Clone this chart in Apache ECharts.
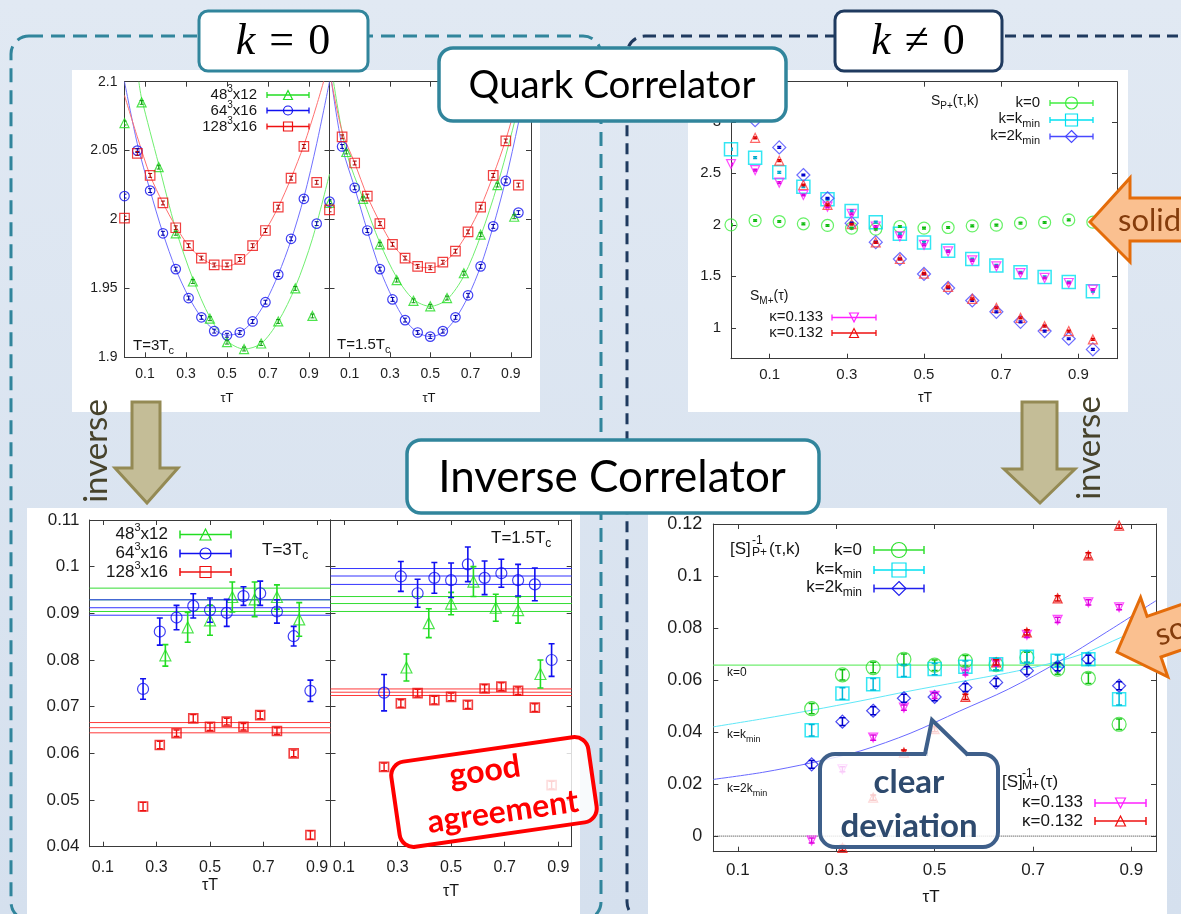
<!DOCTYPE html>
<html>
<head>
<meta charset="utf-8">
<title>Quark Correlator / Inverse Correlator</title>
<script src="https://cdn.jsdelivr.net/npm/echarts@6.0.0/dist/echarts.min.js"></script>
<style>
html,body{margin:0;padding:0;background:#dce5f0;}
#chart{width:1181px;height:914px;}
</style>
</head>
<body>
<div id="chart"></div>
<script>
// ===================== DATA =====================
// Quark correlator, k = 0 (top-left); x = tau*T
const tau12 = [0, 0.0833, 0.1667, 0.25, 0.3333, 0.4167, 0.5, 0.5833, 0.6667, 0.75, 0.8333, 0.9167];
const tau16 = [0, 0.0625, 0.125, 0.1875, 0.25, 0.3125, 0.375, 0.4375, 0.5, 0.5625, 0.625, 0.6875, 0.75, 0.8125, 0.875, 0.9375];
const sq3_48  = [2.070, 2.085, 2.038, 1.990, 1.955, 1.928, 1.911, 1.906, 1.910, 1.926, 1.950, 1.930];
const sq3_64  = [2.017, 2.050, 2.021, 1.990, 1.964, 1.943, 1.929, 1.919, 1.916, 1.918, 1.926, 1.940, 1.960, 1.986, 2.015, 1.997];
const sq3_128 = [2.001, 2.048, 2.032, 2.012, 1.994, 1.981, 1.972, 1.967, 1.967, 1.971, 1.981, 1.992, 2.009, 2.030, 2.053, 2.027];
const sq15_48  = [2.012, 2.049, 2.015, 1.982, 1.956, 1.941, 1.937, 1.943, 1.961, 1.989, 2.025, 2.002];
const sq15_64  = [2.013, 2.053, 2.023, 1.992, 1.964, 1.942, 1.927, 1.918, 1.915, 1.919, 1.929, 1.945, 1.966, 1.995, 2.028, 2.005];
const sq15_128 = [2.007, 2.060, 2.041, 2.017, 1.997, 1.982, 1.972, 1.966, 1.965, 1.969, 1.977, 1.991, 2.009, 2.032, 2.057, 2.025];
const sqErr = 0.0014;
// fit curves
const fitX12a = [0.07, 0.0833, 0.1667, 0.25, 0.3333, 0.4167, 0.5, 0.5833, 0.6667, 0.75, 0.8333, 0.9167, 1.0];
const fit3_48 = [2.100, 2.088, 2.040, 1.993, 1.957, 1.929, 1.912, 1.906, 1.910, 1.926, 1.951, 1.986, 2.033];
const fitX16a = [0, 0.0625, 0.125, 0.1875, 0.25, 0.3125, 0.375, 0.4375, 0.5, 0.5625, 0.625, 0.6875, 0.75, 0.8125, 0.875, 0.9375, 1.0];
const fit3_64  = [2.100, 2.055, 2.021, 1.990, 1.964, 1.944, 1.929, 1.920, 1.916, 1.918, 1.926, 1.940, 1.960, 1.985, 2.016, 2.055, 2.100];
const fit3_128 = [2.090, 2.060, 2.032, 2.012, 1.995, 1.981, 1.972, 1.967, 1.966, 1.970, 1.979, 1.992, 2.009, 2.030, 2.054, 2.083, 2.115];
const fitX16b = [0.01, 0.0625, 0.125, 0.1875, 0.25, 0.3125, 0.375, 0.4375, 0.5, 0.5625, 0.625, 0.6875, 0.75, 0.8125, 0.875, 0.9375, 1.0];
const fit15_128 = [2.100, 2.064, 2.041, 2.017, 1.998, 1.982, 1.972, 1.966, 1.965, 1.968, 1.977, 1.991, 2.009, 2.032, 2.058, 2.090, 2.125];
const fit15_64  = [2.100, 2.053, 2.023, 1.992, 1.964, 1.943, 1.927, 1.918, 1.915, 1.918, 1.928, 1.944, 1.966, 1.995, 2.029, 2.070, 2.115];
const fitX12b = [0.02, 0.0833, 0.1667, 0.25, 0.3333, 0.4167, 0.5, 0.5833, 0.6667, 0.75, 0.8333, 0.9167, 0.97];
const fit15_48 = [2.100, 2.049, 2.015, 1.983, 1.958, 1.942, 1.937, 1.942, 1.959, 1.988, 2.025, 2.070, 2.105];

// Quark correlator, k != 0 (top-right)
const spK0    = [2.000, 2.042, 2.032, 2.010, 1.994, 1.968, 1.958, 1.984, 1.968, 1.974, 1.990, 1.997, 2.016, 2.023, 2.048, 2.026];
const spKmin  = [2.735, 2.652, 2.510, 2.371, 2.248, 2.135, 2.026, 1.913, 1.829, 1.748, 1.668, 1.606, 1.539, 1.494, 1.445, 1.355];
const sp2Kmin = [3.250, 3.016, 2.752, 2.484, 2.258, 2.016, 1.832, 1.668, 1.523, 1.387, 1.265, 1.155, 1.058, 0.968, 0.894, 0.790];
const smK133  = [2.590, 2.532, 2.410, 2.290, 2.177, 2.106, 1.984, 1.887, 1.806, 1.742, 1.655, 1.597, 1.532, 1.484, 1.435, 1.371];
const smK132  = [3.050, 2.845, 2.623, 2.387, 2.194, 2.006, 1.829, 1.668, 1.526, 1.397, 1.281, 1.194, 1.097, 1.016, 0.968, 0.887];
const spErr = 0.008;

// Inverse correlator, k = 0 (bottom-left)
const tauI12 = [0.3333, 0.4167, 0.5, 0.5833, 0.6667, 0.75, 0.8333];
const tauI16 = [0.25, 0.3125, 0.375, 0.4375, 0.5, 0.5625, 0.625, 0.6875, 0.75, 0.8125, 0.875];
const inv3_48   = [0.0810, 0.0870, 0.0885, 0.0935, 0.0930, 0.0935, 0.0887];
const inv3_48e  = [0.0023, 0.0032, 0.0032, 0.0032, 0.0037, 0.0026, 0.0036];
const inv3_64   = [0.0738, 0.0861, 0.0891, 0.0916, 0.0907, 0.0901, 0.0937, 0.0943, 0.0904, 0.0851, 0.0734];
const inv3_64e  = [0.0022, 0.0029, 0.0026, 0.0026, 0.0026, 0.0029, 0.0020, 0.0026, 0.0025, 0.0021, 0.0023];
const inv3_128  = [0.0486, 0.0618, 0.0643, 0.0675, 0.0657, 0.0668, 0.0657, 0.0682, 0.0648, 0.0600, 0.0425];
const inv3_128e = [0.0009, 0.0008, 0.0007, 0.0008, 0.0008, 0.0007, 0.0007, 0.0008, 0.0007, 0.0007, 0.0009];
const inv15_48   = [0.0784, 0.0879, 0.0921, 0.0968, 0.0912, 0.0907, 0.0770];
const inv15_48e  = [0.0029, 0.0031, 0.0024, 0.0032, 0.0029, 0.0028, 0.0030];
const inv15_64   = [0.0730, 0.0979, 0.0943, 0.0976, 0.0971, 0.1005, 0.0976, 0.0986, 0.0971, 0.0962, 0.0800];
const inv15_64e  = [0.0039, 0.0032, 0.0030, 0.0033, 0.0037, 0.0037, 0.0036, 0.0030, 0.0034, 0.0035, 0.0035];
const inv15_128  = [0.0571, 0.0707, 0.0729, 0.0714, 0.0721, 0.0704, 0.0739, 0.0743, 0.0734, 0.0698, 0.0532];
const inv15_128e = [0.0008, 0.0008, 0.0008, 0.0008, 0.0008, 0.0008, 0.0008, 0.0008, 0.0008, 0.0008, 0.0008];
// constant-fit bands [upper, centre, lower]
const band3_48 = [0.0954, 0.0929, 0.0904];
const band3_64 = [0.0929, 0.0912, 0.0896];
const band3_128 = [0.0666, 0.0655, 0.0644];
const band15_48 = [0.0936, 0.0921, 0.0904];
const band15_64 = [0.0996, 0.0980, 0.0962];
const band15_128 = [0.0738, 0.0731, 0.0724];

// Inverse correlator, k != 0 (bottom-right)
const tauI16r = [0.3125, 0.375, 0.4375, 0.5, 0.5625, 0.625, 0.6875, 0.75, 0.8125, 0.875];
const ispK0    = [0.0490, 0.0620, 0.0648, 0.0680, 0.0657, 0.0674, 0.0659, 0.0687, 0.0642, 0.0607, 0.0430];
const ispKmin  = [0.0407, 0.0548, 0.0584, 0.0636, 0.0642, 0.0651, 0.0661, 0.0690, 0.0674, 0.0680, 0.0526];
const isp2Kmin = [0.0276, 0.0440, 0.0482, 0.0530, 0.0535, 0.0571, 0.0591, 0.0636, 0.0651, 0.0680, 0.0578];
const ismK133  = [-0.0017, 0.0257, 0.0379, 0.0494, 0.0539, 0.0629, 0.0664, 0.0774, 0.0831, 0.0899, 0.0880];
const ismK132  = [-0.0045, 0.0148, 0.0321, 0.0411, 0.0535, 0.0668, 0.0783, 0.0914, 0.1079, 0.1194];
const ispErrK0 = 0.0020, ispErrKmin = 0.0022, ispErr2Kmin = 0.0015, ismErr = 0.0010;
const freeK0 = 0.0657;
const freeKminX = [0.05, 0.15, 0.25, 0.35, 0.45, 0.55, 0.65, 0.72, 0.80, 0.88, 0.95];
const freeKminY = [0.0420, 0.0451, 0.0484, 0.0520, 0.0558, 0.0593, 0.0628, 0.0657, 0.0700, 0.0765, 0.0825];
const free2KminX = [0.05, 0.15, 0.25, 0.35, 0.45, 0.55, 0.65, 0.75, 0.85, 0.95];
const free2KminY = [0.0218, 0.0245, 0.0282, 0.0328, 0.0395, 0.0480, 0.0565, 0.0668, 0.0785, 0.0905];

// tick labels
const ticksX01 = [0.1, 0.3, 0.5, 0.7, 0.9];
const ticksYq0 = [1.9, 1.95, 2, 2.05, 2.1];
const ticksYqk = [1, 1.5, 2, 2.5, 3];
const ticksYi0 = [0.04, 0.05, 0.06, 0.07, 0.08, 0.09, 0.1, 0.11];
const ticksYik = [0, 0.02, 0.04, 0.06, 0.08, 0.1, 0.12];

// ===================== CHART =====================
const SANS = '"Liberation Sans", Arial, sans-serif';
const SLIDE = 'Lato, "Open Sans", sans-serif';
const SERIF = '"Liberation Serif", "DejaVu Serif", serif';
const TXT = '#161616';
const TEAL = '#31859c', NAVY = '#1f3a5f';
const G = '#22dd22', B = '#1010f0', R = '#ee1010', CY = '#00e0f0', MG = '#ff20ff';

const chart = echarts.init(document.getElementById('chart'));

const grids = [
  {left:124.5, top:81.7, width:205, height:275.6},
  {left:329.5, top:81.7, width:201.5, height:275.6},
  {left:731, top:81.7, width:386, height:277},
  {left:89.5, top:520, width:241, height:326.7},
  {left:330.5, top:520, width:241.2, height:326.7},
  {left:713.3, top:524, width:442.7, height:327.7}
];
const xAxis = [], yAxis = [];
function addAxes(gi, xmin, xmax, xt, ymin, ymax, yt, fsx, fsy, showY, mx, my){
  const line = {show:true, onZero:false, lineStyle:{color:'#3a3a3a', width:1}};
  const tick = v => ({show:true, inside:true, length:5, customValues:v, lineStyle:{color:'#3a3a3a', width:1}});
  xAxis.push({type:'value', gridIndex:gi, position:'bottom', min:xmin, max:xmax, axisLine:line, axisTick:tick(xt), splitLine:{show:false},
    axisLabel:{show:true, customValues:xt, fontSize:fsx, fontFamily:SANS, color:'#1e1e1e', margin:mx}});
  xAxis.push({type:'value', gridIndex:gi, position:'top', min:xmin, max:xmax, axisLine:line, axisTick:tick(xt), splitLine:{show:false}, axisLabel:{show:false}});
  yAxis.push({type:'value', gridIndex:gi, position:'left', min:ymin, max:ymax, axisLine:line, axisTick:tick(yt), splitLine:{show:false},
    axisLabel:{show:showY, customValues:yt, fontSize:fsy, fontFamily:SANS, color:'#1e1e1e', margin:my}});
  yAxis.push({type:'value', gridIndex:gi, position:'right', min:ymin, max:ymax, axisLine:line, axisTick:tick(yt), splitLine:{show:false}, axisLabel:{show:false}});
}
addAxes(0, 0, 1, ticksX01, 1.9, 2.1, ticksYq0, 14, 14, true, 10, 7);
addAxes(1, 0, 1, ticksX01, 1.9, 2.1, ticksYq0, 14, 14, false, 10, 7);
addAxes(2, 0, 1, ticksX01, 0.7, 3.39, ticksYqk, 15, 15, true, 9, 10);
addAxes(3, 0.05, 0.95, ticksX01, 0.04, 0.11, ticksYi0, 16, 17, true, 13, 10);
addAxes(4, 0.05, 0.95, ticksX01, 0.04, 0.11, ticksYi0, 16, 17, false, 13, 10);
addAxes(5, 0.05, 0.95, ticksX01, -0.006, 0.12, ticksYik, 17, 18, true, 10, 11);

const series = [];
const pts = (xs, ys) => xs.map((x, i) => [x, ys[i]]);
function scat(gi, xs, ys, color, symbol, size, rot, bw){
  series.push({type:'scatter', xAxisIndex:2*gi, yAxisIndex:2*gi, data:pts(xs, ys), symbol:symbol, symbolSize:size,
    symbolRotate:rot || 0, itemStyle:{color:'rgba(0,0,0,0)', borderColor:color, borderWidth:bw || 1.2},
    z:3, silent:true, animation:false});
}
function errb(gi, xs, ys, errs, color, cap, lw){
  const data = xs.map((x, i) => [x, ys[i], Array.isArray(errs) ? errs[i] : errs]);
  series.push({type:'custom', xAxisIndex:2*gi, yAxisIndex:2*gi, data:data, encode:{x:0, y:1}, clip:true, z:4,
    silent:true, animation:false,
    renderItem: function(params, api){
      const x = api.value(0), y = api.value(1), e = api.value(2);
      const a = api.coord([x, y + e]), b = api.coord([x, y - e]);
      const st = {stroke:color, lineWidth:lw};
      return {type:'group', children:[
        {type:'line', shape:{x1:a[0], y1:a[1], x2:b[0], y2:b[1]}, style:st},
        {type:'line', shape:{x1:a[0]-cap, y1:a[1], x2:a[0]+cap, y2:a[1]}, style:st},
        {type:'line', shape:{x1:b[0]-cap, y1:b[1], x2:b[0]+cap, y2:b[1]}, style:st}
      ]};
    }});
}
function ln(gi, data, color, width, smooth, type){
  series.push({type:'line', xAxisIndex:2*gi, yAxisIndex:2*gi, data:data, showSymbol:false, symbol:'none',
    smooth:smooth || false, lineStyle:{color:color, width:width, type:type || 'solid'}, z:2, silent:true, animation:false, clip:true});
}
function band(gi, vals, color){
  vals.forEach(v => ln(gi, [[0.05, v], [0.95, v]], color, 1));
}

// --- top-left, T=3Tc
ln(0, pts(fitX12a, fit3_48), '#70ee70', 1, 0.3);
ln(0, pts(fitX16a, fit3_64), '#7070ff', 1, 0.3);
ln(0, pts(fitX16a, fit3_128), '#ff7070', 1, 0.3);
scat(0, tau12, sq3_48, G, 'triangle', 9);
scat(0, tau16, sq3_64, B, 'circle', 9.5);
scat(0, tau16, sq3_128, R, 'rect', 9.5);
errb(0, tau12, sq3_48, sqErr, '#119911', 2, 1);
errb(0, tau16, sq3_64, sqErr, '#0000aa', 2, 1);
errb(0, tau16, sq3_128, sqErr, '#aa0000', 2, 1);
// --- top-left, T=1.5Tc
ln(1, pts(fitX12b, fit15_48), '#70ee70', 1, 0.3);
ln(1, pts(fitX16b, fit15_64), '#7070ff', 1, 0.3);
ln(1, pts(fitX16b, fit15_128), '#ff7070', 1, 0.3);
scat(1, tau12, sq15_48, G, 'triangle', 9);
scat(1, tau16, sq15_64, B, 'circle', 9.5);
scat(1, tau16, sq15_128, R, 'rect', 9.5);
errb(1, tau12, sq15_48, sqErr, '#119911', 2, 1);
errb(1, tau16, sq15_64, sqErr, '#0000aa', 2, 1);
errb(1, tau16, sq15_128, sqErr, '#aa0000', 2, 1);
// --- top-right
scat(2, tau16, spK0, '#40ee40', 'circle', 12);
scat(2, tau16, spKmin, CY, 'rect', 13, 0, 1.5);
scat(2, tau16, sp2Kmin, '#4848ff', 'diamond', 13);
scat(2, tau16, smK133, MG, 'triangle', 9, 180);
scat(2, tau16, smK132, '#ff4040', 'triangle', 9);
errb(2, tau16, spK0, spErr, '#10bb10', 2, 1.5);
errb(2, tau16, spKmin, spErr, '#00aacc', 2, 1.5);
errb(2, tau16, sp2Kmin, spErr, '#0000cc', 2, 1.5);
errb(2, tau16, smK133, spErr, '#dd00dd', 2, 1.5);
errb(2, tau16, smK132, spErr, '#dd0000', 2, 1.5);
// --- bottom-left, T=3Tc
band(3, band3_48, '#33dd33');
band(3, band3_64, '#3333ff');
band(3, band3_128, '#ff3a3a');
scat(3, tauI12, inv3_48, G, 'triangle', 11);
scat(3, tauI16, inv3_64, B, 'circle', 11);
scat(3, tauI16, inv3_128, R, 'rect', 9, 0, 1.6);
errb(3, tauI12, inv3_48, inv3_48e, G, 3, 1.6);
errb(3, tauI16, inv3_64, inv3_64e, B, 3, 1.6);
errb(3, tauI16, inv3_128, inv3_128e, R, 3, 1.4);
// --- bottom-left, T=1.5Tc
band(4, band15_48, '#33dd33');
band(4, band15_64, '#3333ff');
band(4, band15_128, '#ff3a3a');
scat(4, tauI12, inv15_48, G, 'triangle', 11);
scat(4, tauI16, inv15_64, B, 'circle', 11);
scat(4, tauI16, inv15_128, R, 'rect', 9, 0, 1.6);
errb(4, tauI12, inv15_48, inv15_48e, G, 3, 1.6);
errb(4, tauI16, inv15_64, inv15_64e, B, 3, 1.6);
errb(4, tauI16, inv15_128, inv15_128e, R, 3, 1.4);
// --- bottom-right
ln(5, [[0.05, 0], [0.95, 0]], '#333', 1, false, 'dotted');
ln(5, [[0.05, freeK0], [0.95, freeK0]], '#70ee70', 1.3);
ln(5, pts(freeKminX, freeKminY), '#60e8f8', 1, 0.3);
ln(5, pts(free2KminX, free2KminY), '#6a6aff', 1, 0.3);
scat(5, tauI16, ispK0, '#30e030', 'circle', 14);
scat(5, tauI16, ispKmin, CY, 'rect', 13, 0, 1.5);
scat(5, tauI16, isp2Kmin, '#2020ee', 'diamond', 13);
scat(5, tauI16, ismK133, MG, 'triangle', 9, 180);
scat(5, tauI16r, ismK132, R, 'triangle', 9);
errb(5, tauI16, ispK0, ispErrK0, '#10c010', 3, 1.5);
errb(5, tauI16, ispKmin, ispErrKmin, '#00b8d8', 3, 1.5);
errb(5, tauI16, isp2Kmin, ispErr2Kmin, '#0000cc', 3, 1.5);
errb(5, tauI16, ismK133, ismErr, '#dd00dd', 3, 1.5);
errb(5, tauI16r, ismK132, ismErr, '#dd0000', 3, 1.5);

// ===================== GRAPHICS =====================
const gfx = [];
function T(x, y, text, o){
  const st = Object.assign({x:x, y:y, text:text, fill:TXT, fontSize:15, fontFamily:SANS, align:'left', verticalAlign:'middle'}, o || {});
  st.textAlign = st.align; st.textVerticalAlign = st.verticalAlign;
  return {type:'text', z:60, silent:true, style:st};
}
function rich(fs){
  return {
    n:{fontSize:fs, fontFamily:SANS, lineHeight:fs + 6, fill:TXT},
    sb:{fontSize:Math.round(fs*0.72), fontFamily:SANS, lineHeight:Math.round(fs*0.62), verticalAlign:'bottom', fill:TXT},
    sp:{fontSize:Math.round(fs*0.66), fontFamily:SANS, lineHeight:Math.round(fs*0.62), verticalAlign:'top', fill:TXT}
  };
}
function RT(x, y, text, fs, align){ return T(x, y, text, {rich:rich(fs), fontSize:fs, align:align || 'left'}); }
function sym(kind, cx, cy, s, color, lw){
  const h = s/2, st = {fill:'none', stroke:color, lineWidth:lw || 1.2};
  if (kind === 'circle') return {type:'circle', z:61, silent:true, shape:{cx:cx, cy:cy, r:h}, style:st};
  if (kind === 'rect') return {type:'rect', z:61, silent:true, shape:{x:cx-h, y:cy-h, width:s, height:s}, style:st};
  if (kind === 'tri') return {type:'polygon', z:61, silent:true, shape:{points:[[cx, cy-h], [cx+h, cy+h], [cx-h, cy+h]]}, style:st};
  if (kind === 'dtri') return {type:'polygon', z:61, silent:true, shape:{points:[[cx, cy+h], [cx+h, cy-h], [cx-h, cy-h]]}, style:st};
  return {type:'polygon', z:61, silent:true, shape:{points:[[cx, cy-h], [cx+h, cy], [cx, cy+h], [cx-h, cy]]}, style:st};
}
function legRow(x1, x2, y, color, kind, s, cap, lw){
  const st = {stroke:color, lineWidth:lw || 1.3};
  const L = (a, b, c, d) => ({type:'line', z:60, silent:true, shape:{x1:a, y1:b, x2:c, y2:d}, style:st});
  gfx.push(L(x1, y, x2, y), L(x1, y-cap, x1, y+cap), L(x2, y-cap, x2, y+cap), sym(kind, (x1+x2)/2, y, s, color));
}

// slide background
gfx.push({type:'rect', z:-20, silent:true, shape:{x:0, y:0, width:1181, height:914},
  style:{fill:new echarts.graphic.LinearGradient(0, 0, 0, 1, [{offset:0, color:'#e1e9f3'}, {offset:1, color:'#d5e0ee'}])}});
// dashed frames
gfx.push({type:'rect', z:-15, silent:true, shape:{x:11, y:36, width:590, height:884, r:18}, style:{fill:'none', stroke:TEAL, lineWidth:3, lineDash:[14, 8]}});
gfx.push({type:'rect', z:-15, silent:true, shape:{x:627, y:36, width:600, height:884, r:18}, style:{fill:'none', stroke:NAVY, lineWidth:3, lineDash:[11, 7]}});
// white plot areas
[[72, 70, 468, 342], [688, 70, 440, 342], [27, 508, 553, 420], [648, 508, 519, 420]].forEach(r =>
  gfx.push({type:'rect', z:-10, silent:true, shape:{x:r[0], y:r[1], width:r[2], height:r[3]}, style:{fill:'#ffffff'}}));

// ---- texts inside the plots
gfx.push(T(227, 398, 'τT', {fontSize:13, align:'center'}), T(429, 398, 'τT', {fontSize:13, align:'center'}));
gfx.push(T(925, 398, 'τT', {fontSize:14, align:'center'}));
gfx.push(T(210, 886, 'τT', {fontSize:16, align:'center'}), T(451, 892, 'τT', {fontSize:16, align:'center'}));
gfx.push(T(931, 897, 'τT', {fontSize:17, align:'center'}));
gfx.push(RT(133, 346, '{n|T=3T}{sb|c}', 15), RT(337, 345, '{n|T=1.5T}{sb|c}', 15));
gfx.push(RT(262, 550, '{n|T=3T}{sb|c}', 17), RT(491, 538, '{n|T=1.5T}{sb|c}', 17));
// TL legend
gfx.push(RT(257, 95, '{n|48}{sp|3}{n|x12}', 15, 'right'), RT(257, 110.5, '{n|64}{sp|3}{n|x16}', 15, 'right'), RT(257, 126.5, '{n|128}{sp|3}{n|x16}', 15, 'right'));
legRow(267, 309, 95, G, 'tri', 9, 3);
legRow(267, 309, 110.5, B, 'circle', 9, 3);
legRow(267, 309, 126.5, R, 'rect', 9, 3);
// TR legends
gfx.push(RT(931, 101, '{n|S}{sb|P+}{n|(τ,k)}', 14));
gfx.push(RT(1040, 103, '{n|k=0}', 15, 'right'), RT(1040, 119, '{n|k=k}{sb|min}', 15, 'right'), RT(1040, 135.5, '{n|k=2k}{sb|min}', 15, 'right'));
legRow(1050, 1093, 103, '#40ee40', 'circle', 12, 3);
legRow(1050, 1093, 120, CY, 'rect', 12, 3);
legRow(1050, 1093, 136.5, '#4848ff', 'dia', 12, 3);
gfx.push(RT(750, 296, '{n|S}{sb|M+}{n|(τ)}', 14));
gfx.push(RT(823, 317, '{n|κ=0.133}', 15, 'right'), RT(823, 332.5, '{n|κ=0.132}', 15, 'right'));
legRow(832, 876, 317.5, MG, 'dtri', 9, 3);
legRow(832, 876, 333, R, 'tri', 9, 3);
// BL legend
gfx.push(RT(168, 534, '{n|48}{sp|3}{n|x12}', 17, 'right'), RT(168, 553, '{n|64}{sp|3}{n|x16}', 17, 'right'), RT(168, 572, '{n|128}{sp|3}{n|x16}', 17, 'right'));
legRow(180, 231, 534.5, G, 'tri', 11, 4, 1.5);
legRow(180, 231, 553.5, B, 'circle', 11, 4, 1.5);
legRow(180, 231, 572, R, 'rect', 11, 4, 1.5);
// BR legends and curve labels
gfx.push(T(730, 549, '[S]', {fontSize:17}), T(752, 541, '-1', {fontSize:12}), T(752, 553, 'P+', {fontSize:12}), T(769, 549, '(τ,k)', {fontSize:17}));
gfx.push(RT(862, 550, '{n|k=0}', 17, 'right'), RT(862, 569, '{n|k=k}{sb|min}', 17, 'right'), RT(862, 587, '{n|k=2k}{sb|min}', 17, 'right'));
legRow(874, 924, 550, '#30e030', 'circle', 15, 4, 1.5);
legRow(874, 924, 570, CY, 'rect', 14, 4, 1.5);
legRow(874, 924, 588.5, '#2020ee', 'dia', 14, 4, 1.5);
gfx.push(T(1002, 782, '[S]', {fontSize:17}), T(1022, 774, '-1', {fontSize:12}), T(1022, 786, 'M+', {fontSize:12}), T(1040, 782, '(τ)', {fontSize:17}));
gfx.push(RT(1083, 802.5, '{n|κ=0.133}', 17, 'right'), RT(1083, 821, '{n|κ=0.132}', 17, 'right'));
legRow(1095, 1146, 803, MG, 'dtri', 10, 4, 1.5);
legRow(1095, 1146, 821, R, 'tri', 10, 4, 1.5);
gfx.push(T(727, 673, 'k=0', {fontSize:12}), RT(727, 735, '{n|k=k}{sb|min}', 12), RT(727, 789, '{n|k=2k}{sb|min}', 12));

// ---- slide decorations
function box(x, y, w, h, stroke, r, lw){
  return {type:'rect', z:90, silent:true, shape:{x:x, y:y, width:w, height:h, r:r}, style:{fill:'#ffffff', stroke:stroke, lineWidth:lw}};
}
function ZT(x, y, text, o){ const t = T(x, y, text, o); t.z = 99; return t; }
gfx.push(box(199, 11, 169, 60, TEAL, 9, 3));
gfx.push(box(835, 11, 167, 60, NAVY, 9, 3));
gfx.push({type:'text', z:92, silent:true, style:{x:283, y:42, text:'{i|k}{e|=}{n|0}', align:'center', verticalAlign:'middle', textAlign:'center', textVerticalAlign:'middle',
  rich:{i:{fontSize:44, fontFamily:SERIF, fontStyle:'italic', fill:'#000'}, e:{fontSize:44, fontFamily:SERIF, fill:'#000', padding:[0, 14, 0, 14]}, n:{fontSize:44, fontFamily:SERIF, fill:'#000'}}}});
gfx.push({type:'text', z:92, silent:true, style:{x:918, y:42, text:'{i|k}{e|≠}{n|0}', align:'center', verticalAlign:'middle', textAlign:'center', textVerticalAlign:'middle',
  rich:{i:{fontSize:44, fontFamily:SERIF, fontStyle:'italic', fill:'#000'}, e:{fontSize:44, fontFamily:SERIF, fill:'#000', padding:[0, 14, 0, 14]}, n:{fontSize:44, fontFamily:SERIF, fill:'#000'}}}});
gfx.push(box(439, 48, 347, 73, TEAL, 14, 3.5));
gfx.push(ZT(612, 86, 'Quark Correlator', {fontSize:38.5, fontFamily:SLIDE, fill:'#000', align:'center'}));
gfx.push(box(407, 440, 412, 73, TEAL, 14, 3.5));
gfx.push(ZT(612, 478, 'Inverse Correlator', {fontSize:44, fontFamily:SLIDE, fill:'#000', align:'center'}));
// olive "inverse" arrows
const OL = {fill:'#c4bd97', stroke:'#948a54', lineWidth:3};
gfx.push({type:'polygon', z:85, silent:true, shape:{points:[[132, 402], [160, 402], [160, 468], [178, 468], [147, 503], [115, 468], [132, 468]]}, style:OL});
gfx.push({type:'polygon', z:85, silent:true, shape:{points:[[1022, 402], [1057, 402], [1057, 469], [1075, 469], [1040, 503], [1004, 469], [1022, 469]]}, style:OL});
gfx.push({type:'text', z:86, silent:true, x:96, y:451, rotation:Math.PI/2,
  style:{x:0, y:0, text:'inverse', fontSize:33, fontFamily:SLIDE, fill:'#47432c', align:'center', verticalAlign:'middle', textAlign:'center', textVerticalAlign:'middle'}});
gfx.push({type:'text', z:86, silent:true, x:1089, y:448, rotation:Math.PI/2,
  style:{x:0, y:0, text:'inverse', fontSize:33, fontFamily:SLIDE, fill:'#47432c', align:'center', verticalAlign:'middle', textAlign:'center', textVerticalAlign:'middle'}});
// orange "solid" arrows
const ORG = {fill:'#fac090', stroke:'#e46c0a', lineWidth:3};
const arrowPts = [[0, 0], [40, -44], [40, -24], [140, -24], [140, 19], [40, 19], [40, 40]];
gfx.push({type:'group', x:1090, y:222, z:88, children:[
  {type:'polygon', z:88, silent:true, shape:{points:arrowPts}, style:ORG},
  {type:'text', z:89, silent:true, style:{x:28, y:-1, text:'solid', fontSize:31, fontFamily:SLIDE, fill:'#843c0c', align:'left', verticalAlign:'middle', textAlign:'left', textVerticalAlign:'middle'}}
]});
gfx.push({type:'group', x:1117, y:652, rotation:0.33, z:88, children:[
  {type:'polygon', z:88, silent:true, shape:{points:arrowPts}, style:ORG},
  {type:'text', z:89, silent:true, style:{x:42, y:-2, text:'solid', fontSize:31, fontFamily:SLIDE, fill:'#843c0c', align:'left', verticalAlign:'middle', textAlign:'left', textVerticalAlign:'middle'}}
]});
// "good agreement" callout
gfx.push({type:'group', x:494, y:792, rotation:0.143, z:95, children:[
  {type:'rect', z:95, silent:true, shape:{x:-99.5, y:-43, width:199, height:86, r:14}, style:{fill:'rgba(255,255,255,0.82)', stroke:'#ff0000', lineWidth:4}},
  {type:'text', z:96, silent:true, style:{x:-6, y:-22, text:'good', fontSize:32, fontWeight:'bold', fontFamily:SLIDE, fill:'#ff0000', align:'center', verticalAlign:'middle', textAlign:'center', textVerticalAlign:'middle'}},
  {type:'text', z:96, silent:true, style:{x:6, y:21, text:'agreement', fontSize:32, fontWeight:'bold', fontFamily:SLIDE, fill:'#ff0000', align:'center', verticalAlign:'middle', textAlign:'center', textVerticalAlign:'middle'}}
]});
// "clear deviation" callout (rounded box + pointer)
const CD = '#3e5f8a';
gfx.push({type:'rect', z:95, silent:true, shape:{x:820, y:754, width:178, height:93, r:15}, style:{fill:'rgba(255,255,255,0.8)', stroke:CD, lineWidth:4}});
gfx.push({type:'polygon', z:96, silent:true, shape:{points:[[926, 756], [932, 720], [967, 756]]}, style:{fill:'rgba(255,255,255,0.8)'}});
gfx.push({type:'line', z:96, silent:true, shape:{x1:928, y1:754, x2:965, y2:754}, style:{stroke:'#ffffff', lineWidth:5}});
gfx.push({type:'polyline', z:97, silent:true, shape:{points:[[925, 754], [932, 720], [968, 755]]}, style:{fill:'none', stroke:CD, lineWidth:4}});
gfx.push(ZT(909, 782, 'clear', {fontSize:33, fontWeight:'bold', fontFamily:SLIDE, fill:'#2e4a6e', align:'center'}));
gfx.push(ZT(909, 826, 'deviation', {fontSize:33, fontWeight:'bold', fontFamily:SLIDE, fill:'#2e4a6e', align:'center'}));

chart.setOption({
  animation:false,
  backgroundColor:'#dce5f0',
  grid:grids.map(g => Object.assign({show:false, containLabel:false}, g)),
  xAxis:xAxis,
  yAxis:yAxis,
  series:series,
  graphic:{elements:gfx}
});
</script>
</body>
</html>
